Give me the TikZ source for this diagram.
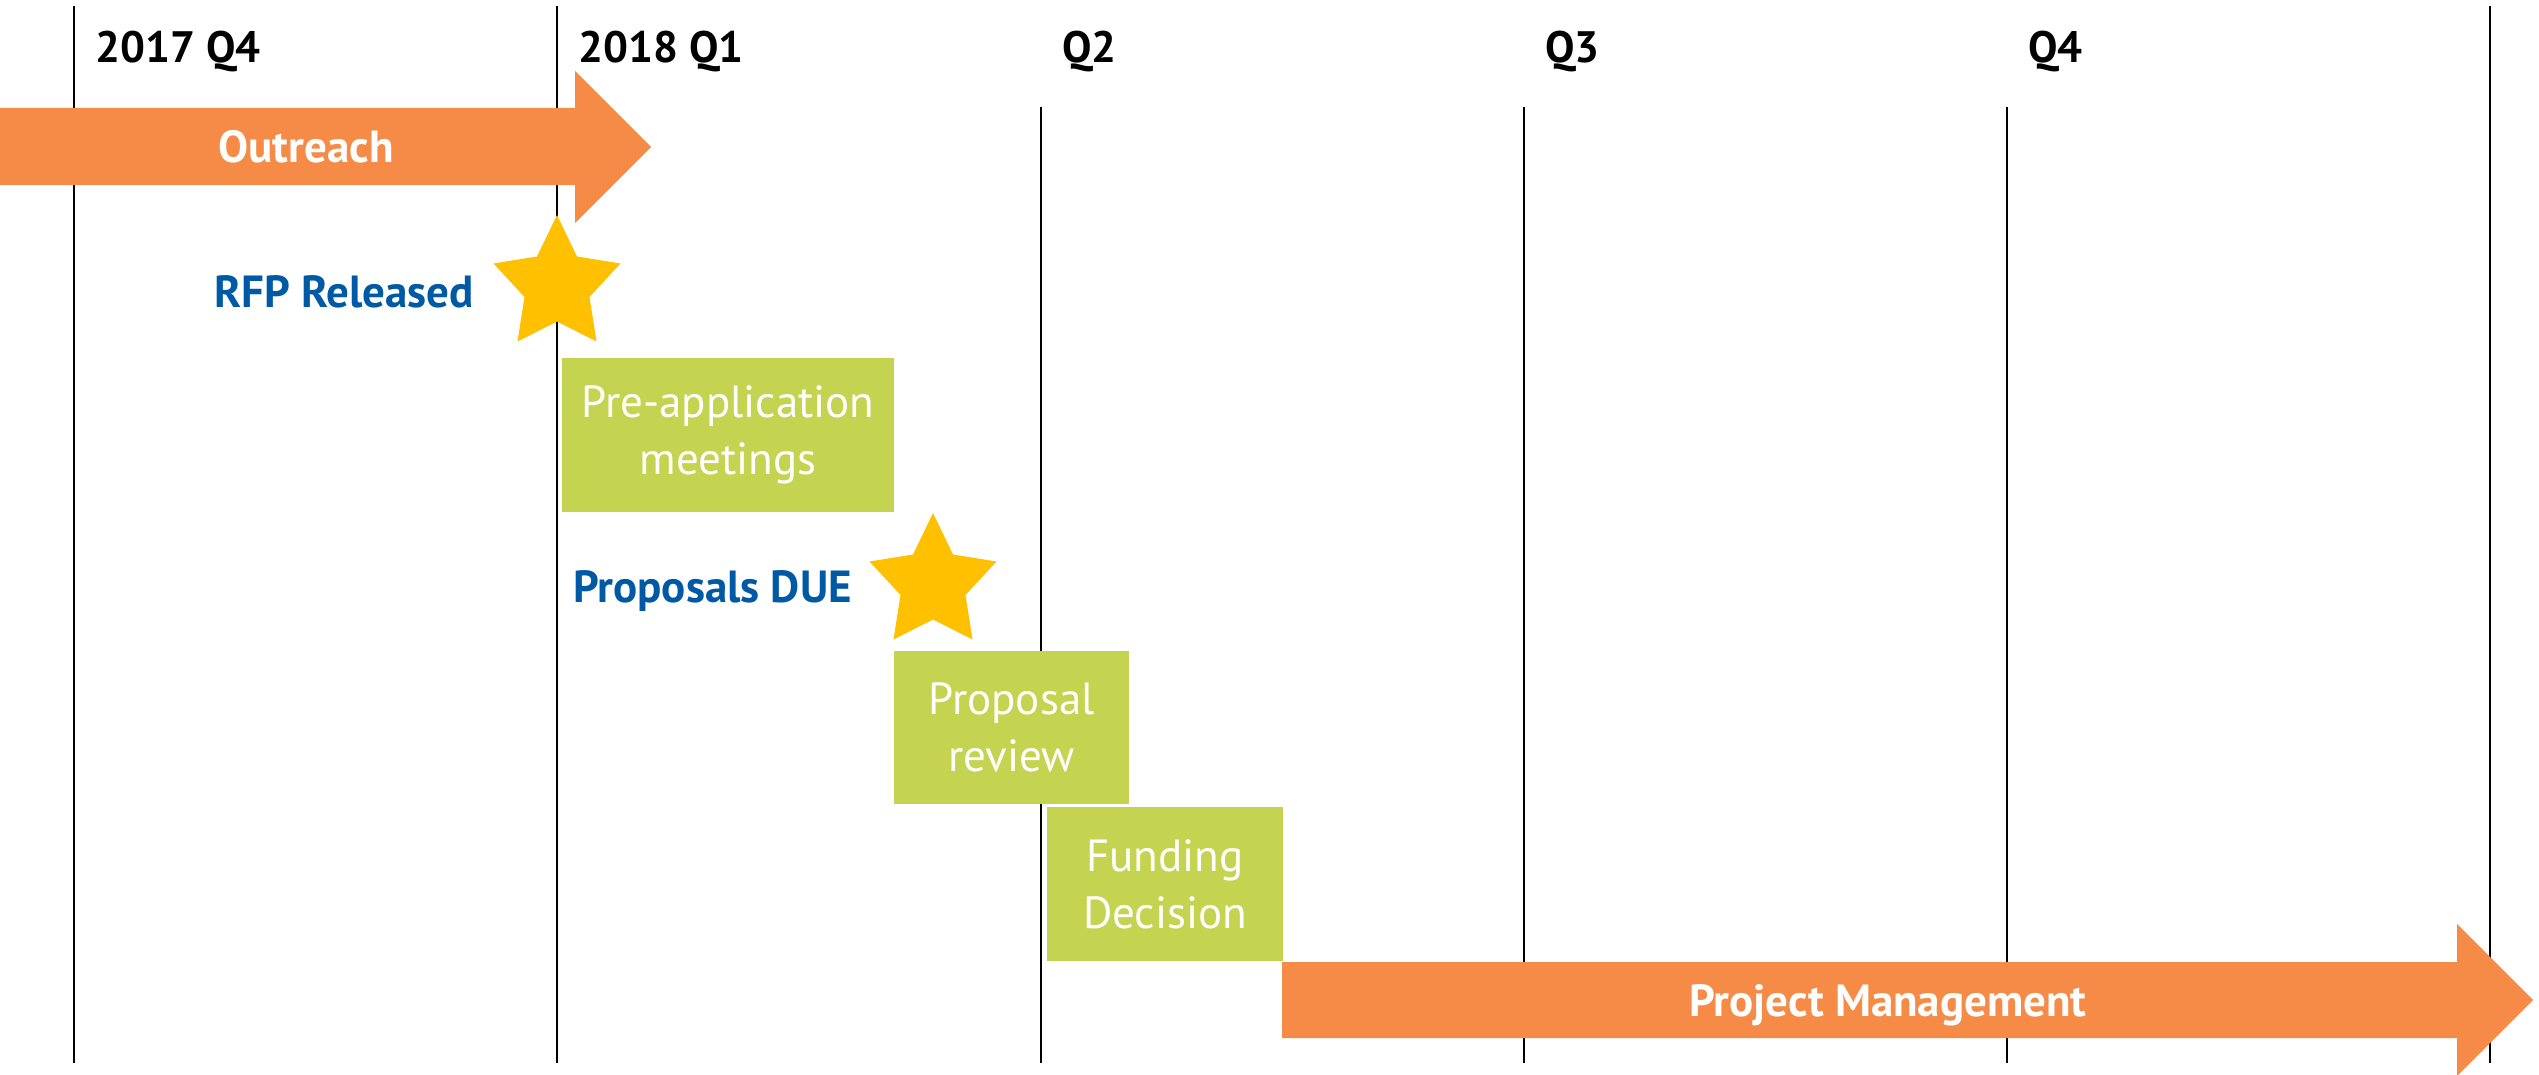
\documentclass[tikz,border=0pt]{standalone}
\usepackage{fontspec}
\setmainfont{PT Sans}
\definecolor{barorange}{RGB}{246,139,71}
\definecolor{taskgreen}{RGB}{197,212,80}
\definecolor{stargold}{RGB}{255,192,0}
\definecolor{mileblue}{RGB}{0,89,165}
\tikzset{
  tick/.style={line width=2pt, black},
  hdr/.style={font=\bfseries\fontsize{44}{57}\selectfont, inner sep=0pt, anchor=base west, text=black},
  taskbox/.style={rectangle, fill=taskgreen, text=white, inner sep=0pt, align=center,
    font=\fontsize{45}{57}\selectfont},
  miletext/.style={text=mileblue, font=\bfseries\fontsize{45}{57}\selectfont, inner sep=0pt, anchor=base east},
  barfill/.style={fill=barorange},
  bartext/.style={text=white, font=\bfseries\fontsize{45}{57}\selectfont, inner sep=0pt, anchor=base},
  goldstar/.pic={\fill[stargold] (0,0) -- (20,41.5) -- (63.5,48.5) -- (32.5,82) -- (39.5,126.5)
    -- (0,106.5) -- (-39.5,126.5) -- (-32.5,82) -- (-63.5,48.5) -- (-20,41.5) -- cycle;}
}
\begin{document}
\begin{tikzpicture}[x=1pt,y=-1pt]
\useasboundingbox[fill=white] (0,0) rectangle (2539,1075);
% quarter lines
\draw[tick] (74,6) -- (74,1063);
\draw[tick] (557,6) -- (557,1063);
\draw[tick] (1041,107) -- (1041,1063);
\draw[tick] (1524,107) -- (1524,1063);
\draw[tick] (2007,107) -- (2007,1063);
\draw[tick] (2490,6) -- (2490,1063);
% headers
\node[hdr] (h1) at (95,63) {2017 Q4};
\node[hdr] (h2) at (578,63) {2018 Q1};
\node[hdr] (h3) at (1062,63) {Q2};
\node[hdr] (h4) at (1545,63) {Q3};
\node[hdr] (h5) at (2028,63) {Q4};
% outreach arrow
\fill[barfill] (-2,108) -- (575,108) -- (575,71) -- (651,147) -- (575,223) -- (575,185) -- (-2,185) -- cycle;
\node[bartext] (outreach) at (306,163) {Outreach};
% RFP star
\pic at (557,215) {goldstar};
\node[miletext] (rfp) at (474,307) {RFP Released};
% tasks
\node[taskbox, minimum width=332pt, minimum height=154pt] (preapp) at (728,435) {Pre-application\\meetings};
\pic at (933,513) {goldstar};
\node[miletext] (due) at (852,602) {Proposals DUE};
\node[taskbox, minimum width=235pt, minimum height=153pt] (review) at (1011.5,727.5) {Proposal\\review};
\node[taskbox, minimum width=236pt, minimum height=154pt] (funding) at (1165,884) {Funding\\Decision};
% project management arrow
\fill[barfill] (1282,962) -- (2457,962) -- (2457,924) -- (2533,1000) -- (2457,1076) -- (2457,1038) -- (1282,1038) -- cycle;
\node[bartext] (pm) at (1888,1016) {Project Management};
\end{tikzpicture}
\end{document}
